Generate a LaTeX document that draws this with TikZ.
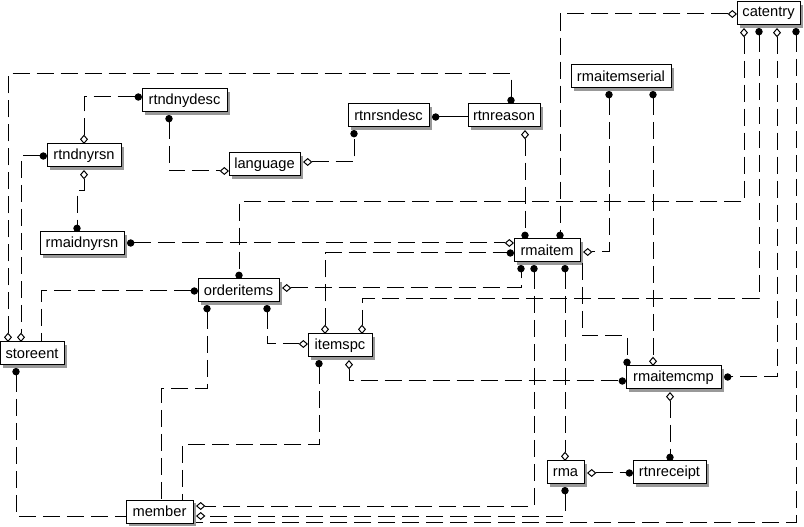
\documentclass[tikz,border=0pt]{standalone}
\usepackage{fontspec}
\setmainfont{Liberation Sans}
\usetikzlibrary{arrows.meta,shadows}
\begin{document}
\begin{tikzpicture}[x=0.75pt,y=-0.75pt,
  ent/.style={draw, line width=0.75pt, fill=white, inner sep=0pt, outer sep=0pt,
    minimum height=17.25pt, anchor=north west, font=\fontsize{11}{13}\selectfont,
    drop shadow={shadow xshift=2.25pt, shadow yshift=-2.25pt, fill=black!40, opacity=1}},
  conn/.style={line width=0.75pt, dash pattern=on 12.75pt off 5.25pt},
  solidconn/.style={line width=0.75pt},
  edot/.tip={Circle[length=5.5pt]},
  ediam/.tip={Diamond[open,length=7pt,width=6pt]}]
\fill[white] (0,0) rectangle (804,527);
\useasboundingbox (0,0) rectangle (804,527);

% entities
\node[ent, minimum width=63*0.75pt]  (catentry)      at (737,2)   {catentry};
\node[ent, minimum width=100*0.75pt] (rmaitemserial) at (571,65)  {rmaitemserial};
\node[ent, minimum width=85*0.75pt]  (rtndnydesc)    at (142,89)  {rtndnydesc};
\node[ent, minimum width=74*0.75pt]  (rtndnyrsn)     at (47,144)  {rtndnyrsn};
\node[ent, minimum width=71*0.75pt]  (language)      at (229,153) {language};
\node[ent, minimum width=81*0.75pt]  (rtnrsndesc)    at (348,104) {rtnrsndesc};
\node[ent, minimum width=72*0.75pt]  (rtnreason)     at (468,104) {rtnreason};
\node[ent, minimum width=84*0.75pt]  (rmaidnyrsn)    at (40,232)  {rmaidnyrsn};
\node[ent, minimum width=66*0.75pt]  (rmaitem)       at (514,239) {rmaitem};
\node[ent, minimum width=81*0.75pt]  (orderitems)    at (198,279) {orderitems};
\node[ent, minimum width=64*0.75pt]  (itemspc)       at (308,334) {itemspc};
\node[ent, minimum width=64*0.75pt]  (storeent)      at (0,342)   {storeent};
\node[ent, minimum width=95*0.75pt]  (rmaitemcmp)    at (626,366) {rmaitemcmp};
\node[ent, minimum width=37*0.75pt]  (rma)           at (547,461) {rma};
\node[ent, minimum width=73*0.75pt]  (rtnreceipt)    at (633,461) {rtnreceipt};
\node[ent, minimum width=67*0.75pt]  (member)        at (126,500) {member};

% connectors
\draw[conn, {ediam}-{edot}] ([shift={(37,0)}]rtndnyrsn.north west) |- ([shift={(0,8)}]rtndnydesc.north west);
\draw[conn, {edot}-{ediam}] ([shift={(27,26)}]rtndnydesc.north west) |- ([shift={(0,18)}]language.north west);
\draw[conn, {ediam}-{edot}] ([shift={(37,26)}]rtndnyrsn.north west) -- (84,191) -| ([shift={(37,0)}]rmaidnyrsn.north west);
\draw[conn, {edot}-{ediam}] ([shift={(0,12)}]rtndnyrsn.north west) -| ([shift={(21,0)}]storeent.north west);
\draw[conn, {ediam}-{edot}] ([shift={(8,0)}]storeent.north west) -- (8,74) -| ([shift={(43,0)}]rtnreason.north west);
\draw[conn, {ediam}-{edot}] ([shift={(74,9)}]language.north west) -| ([shift={(6,26)}]rtnrsndesc.north west);
\draw[solidconn, {edot}-] ([shift={(84,13)}]rtnrsndesc.north west) -- ([shift={(0,13)}]rtnreason.north west);
\draw[conn, {ediam}-{edot}] ([shift={(57,26)}]rtnreason.north west) -- ([shift={(11,0)}]rmaitem.north west);
\draw[conn, {ediam}-{edot}] ([shift={(0,12)}]catentry.north west) -| ([shift={(46,0)}]rmaitem.north west);
\draw[conn, {ediam}-{edot}] ([shift={(7,26)}]catentry.north west) -- (744,202) -| ([shift={(41,0)}]orderitems.north west);
\draw[conn, {edot}-{ediam}] ([shift={(22,26)}]catentry.north west) -- (759,299) -| ([shift={(54,0)}]itemspc.north west);
\draw[conn, {ediam}-{edot}] ([shift={(40,26)}]catentry.north west) |- ([shift={(98,11)}]rmaitemcmp.north west);
\draw[conn, {edot}-] ([shift={(59,26)}]catentry.north west) |- ([shift={(70,22)}]member.north west);
\draw[conn, {edot}-{ediam}] ([shift={(38,26)}]rmaitemserial.north west) |- ([shift={(69,13)}]rmaitem.north west);
\draw[conn, {edot}-{ediam}] ([shift={(82,26)}]rmaitemserial.north west) -- ([shift={(27,0)}]rmaitemcmp.north west);
\draw[conn, {edot}-{ediam}] ([shift={(87,11)}]rmaidnyrsn.north west) -- ([shift={(0,4)}]rmaitem.north west);
\draw[conn, {ediam}-{edot}] ([shift={(17,0)}]itemspc.north west) |- ([shift={(0,14)}]rmaitem.north west);
\draw[conn, {ediam}-{edot}] ([shift={(84,9)}]orderitems.north west) -| ([shift={(7,26)}]rmaitem.north west);
\draw[conn, {edot}-] ([shift={(0,12)}]orderitems.north west) -| ([shift={(41,0)}]storeent.north west);
\draw[conn, {edot}-{ediam}] ([shift={(69,26)}]orderitems.north west) |- ([shift={(0,10)}]itemspc.north west);
\draw[conn, {edot}-] ([shift={(9,26)}]orderitems.north west) -- (207,389) -| ([shift={(35,0)}]member.north west);
\draw[conn, {edot}-] ([shift={(11,26)}]itemspc.north west) -- (319,445) -| ([shift={(56,0)}]member.north west);
\draw[conn, {ediam}-{edot}] ([shift={(41,26)}]itemspc.north west) |- ([shift={(0,15)}]rmaitemcmp.north west);
\draw[conn, {edot}-{ediam}] ([shift={(20,26)}]rmaitem.north west) |- ([shift={(70,6)}]member.north west);
\draw[conn, {edot}-{ediam}] ([shift={(51,26)}]rmaitem.north west) -- ([shift={(18,0)}]rma.north west);
\draw[conn, {edot}-{ediam}] ([shift={(18,26)}]rma.north west) |- ([shift={(70,16)}]member.north west);
\draw[conn, -{edot}] ([shift={(68,24)}]rmaitem.north west) -- (582,336) -| ([shift={(1,0)}]rmaitemcmp.north west);
\draw[conn, {ediam}-{edot}] ([shift={(44,26)}]rmaitemcmp.north west) -- ([shift={(37,0)}]rtnreceipt.north west);
\draw[conn, {ediam}-{edot}] ([shift={(40,12)}]rma.north west) -- ([shift={(0,12)}]rtnreceipt.north west);
\draw[conn, {edot}-] ([shift={(16,26)}]storeent.north west) |- ([shift={(0,16)}]member.north west);
\end{tikzpicture}
\end{document}
